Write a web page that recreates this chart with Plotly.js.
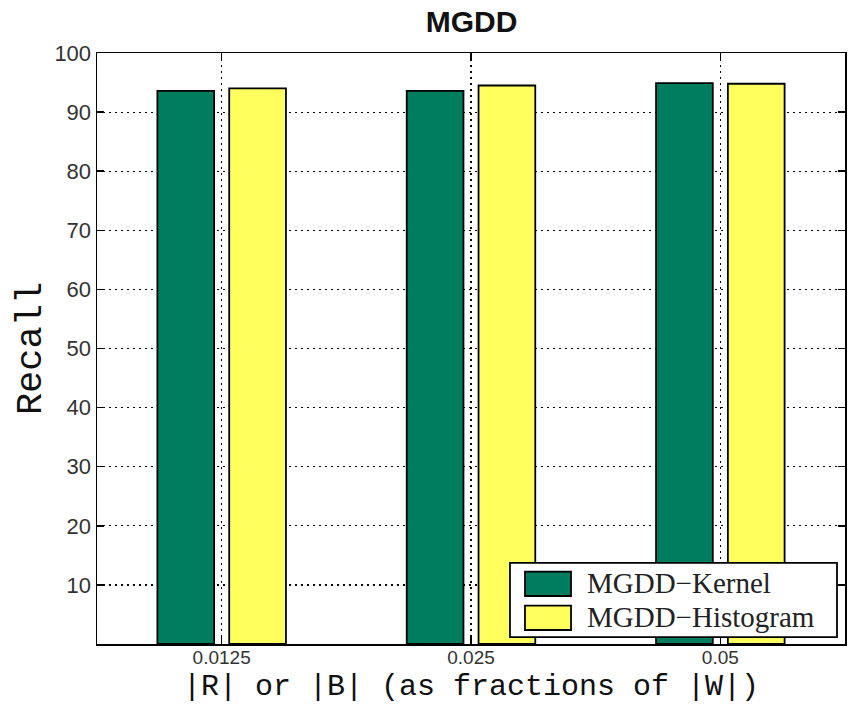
<!DOCTYPE html>
<html>
<head>
<meta charset="utf-8">
<script src="https://cdn.plot.ly/plotly-3.0.1.min.js"></script>
<style>html,body{margin:0;padding:0;background:#fff;}#chart{width:849px;height:705px;}</style>
</head>
<body>
<div id="chart"></div>
<script>
const categories = ["0.0125", "0.025", "0.05"];
const kernelValues = [93.6, 93.6, 94.9];
const histogramValues = [94.0, 94.5, 94.8];
const seriesNames = ["MGDD\u2212Kernel", "MGDD\u2212Histogram"];
const seriesColors = ["#007d5f", "#ffff5e"];
const yTicks = [10, 20, 30, 40, 50, 60, 70, 80, 90, 100];
const xTitle = "|R| or |B| (as fractions of |W|)";

const traces = [
  {type: "bar", x: categories, y: kernelValues, name: seriesNames[0],
   marker: {color: seriesColors[0], line: {color: "#000", width: 1.8}}},
  {type: "bar", x: categories, y: histogramValues, name: seriesNames[1],
   marker: {color: seriesColors[1], line: {color: "#000", width: 1.8}}}
];

// MATLAB-style legend box (paper coordinates), drawn as shapes + text
const legendShapes = [
  {type: "rect", xref: "paper", yref: "paper", x0: 0.5521, x1: 0.9893, y0: 0.0118, y1: 0.1371,
   fillcolor: "#fff", line: {color: "#000", width: 1.8}, layer: "above"},
  {type: "rect", xref: "paper", yref: "paper", x0: 0.5722, x1: 0.6337, y0: 0.0812, y1: 0.1223,
   fillcolor: seriesColors[0], line: {color: "#000", width: 1.8}, layer: "above"},
  {type: "rect", xref: "paper", yref: "paper", x0: 0.5722, x1: 0.6337, y0: 0.0237, y1: 0.0648,
   fillcolor: seriesColors[1], line: {color: "#000", width: 1.8}, layer: "above"}
];
const legendFont = {family: "Liberation Serif, Times New Roman, serif", size: 29, color: "#222"};
const annotations = [
  {xref: "paper", yref: "paper", x: 0.6524, y: 0.1032, xanchor: "left", yanchor: "middle",
   text: seriesNames[0], showarrow: false, font: legendFont},
  {xref: "paper", yref: "paper", x: 0.6524, y: 0.0457, xanchor: "left", yanchor: "middle",
   text: seriesNames[1], showarrow: false, font: legendFont},
  {xref: "paper", yref: "paper", x: 0.5, y: -0.0735, xanchor: "center", yanchor: "middle",
   text: xTitle, showarrow: false, borderpad: 0,
   font: {family: "Liberation Mono, Courier New, monospace", size: 30, color: "#111"}}
];

const layout = {
  width: 849, height: 705,
  margin: {l: 97, r: 4, t: 53, b: 61},
  paper_bgcolor: "#fff", plot_bgcolor: "#fff",
  barmode: "group", bargap: 0.424, bargroupgap: 0.21,
  showlegend: false,
  title: {text: "<b>MGDD</b>", x: 0.5555, xanchor: "center", y: 0.969, yanchor: "middle",
          font: {family: "Liberation Sans, Arial, sans-serif", size: 30, color: "#111"}},
  xaxis: {
    type: "category", range: [-0.5, 2.5],
    showline: true, linecolor: "#000", linewidth: 1.5, mirror: "ticks",
    ticks: "inside", ticklen: 7, tickwidth: 1.5, tickcolor: "#000",
    ticklabelstandoff: -4,
    showgrid: true, gridcolor: "#000", gridwidth: 1.2, griddash: "2px,4px",
    tickfont: {family: "Liberation Sans, Arial, sans-serif", size: 19, color: "#333"}
  },
  yaxis: {
    range: [0, 100], tickvals: yTicks,
    showline: true, linecolor: "#000", linewidth: 1.5, mirror: "ticks",
    ticks: "inside", ticklen: 7, tickwidth: 1.5, tickcolor: "#000",
    showgrid: true, gridcolor: "#000", gridwidth: 1.2, griddash: "2px,4px",
    zeroline: false,
    tickfont: {family: "Liberation Sans, Arial, sans-serif", size: 22, color: "#333"},
    title: {text: "Recall", standoff: 1,
            font: {family: "Liberation Mono, Courier New, monospace", size: 37, color: "#111"}}
  },
  shapes: legendShapes,
  annotations: annotations
};

Plotly.newPlot("chart", traces, layout, {staticPlot: true, displayModeBar: false});
</script>
</body>
</html>
